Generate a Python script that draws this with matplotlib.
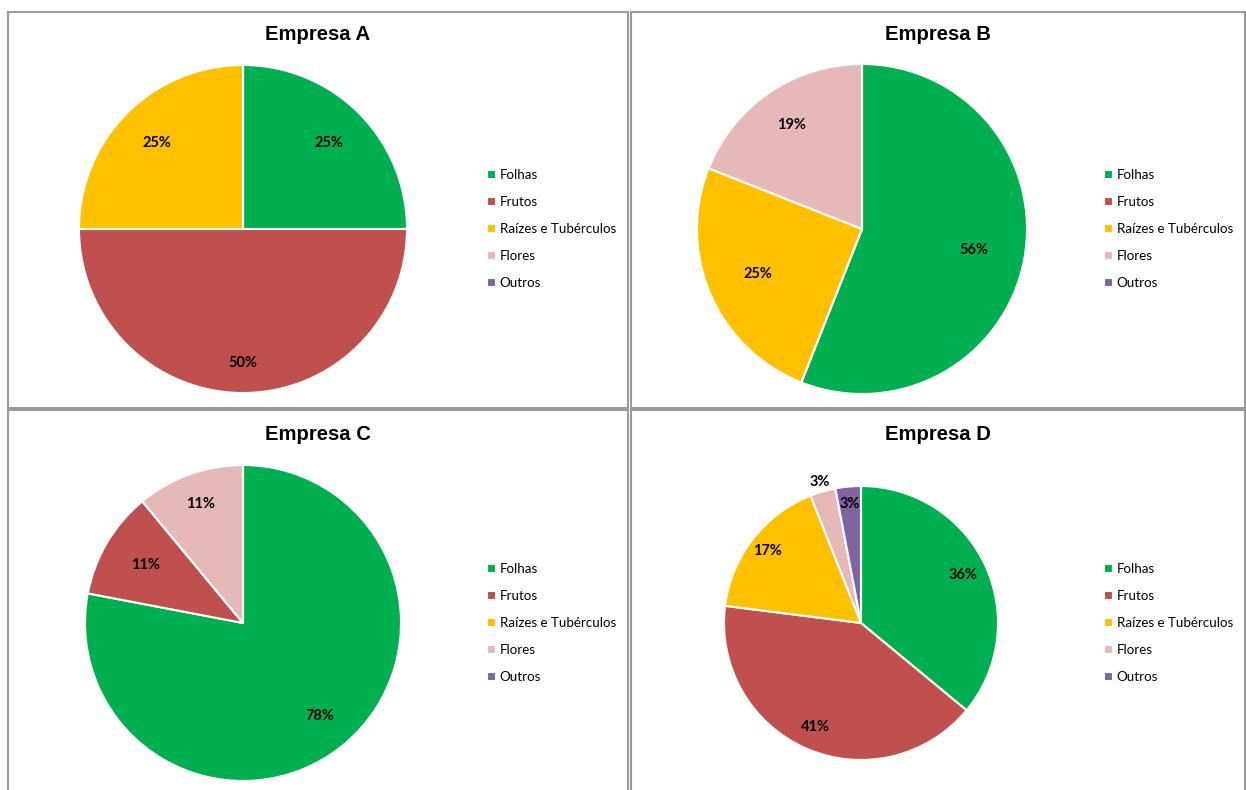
import matplotlib
matplotlib.use("Agg")
import matplotlib.pyplot as plt
from matplotlib.patches import Rectangle
import numpy as np

categories = ["Folhas", "Frutos", "Raízes e Tubérculos", "Flores", "Outros"]
colors = ["#00B050", "#C0504D", "#FFC000", "#E6B9B8", "#8064A2"]

titles = ["Empresa A", "Empresa B", "Empresa C", "Empresa D"]
empresa_a = [25, 50, 25, 0, 0]
empresa_b = [56, 0, 25, 19, 0]
empresa_c = [78, 11, 0, 11, 0]
empresa_d = [36, 41, 17, 3, 3]
series = [empresa_a, empresa_b, empresa_c, empresa_d]

W, H = 1246, 790
fig = plt.figure(figsize=(W / 100, H / 100), dpi=100)
fig.patch.set_facecolor("white")

# layout (pixels): panel boxes, pie center/radius, label radius factors
panels = [(8, 12, 628, 408), (631, 12, 1245, 408), (8, 410, 628, 800), (631, 410, 1245, 800)]
pies = [(243, 229, 164), (862, 229, 165), (243, 623, 158), (861, 623, 137)]
label_r = [
    [0.74, 0.82, 0.74, 0.75, 0.75],
    [0.69, 0.7, 0.69, 0.76, 0.75],
    [0.76, 0.72, 0.75, 0.8, 0.75],
    [0.82, 0.83, 0.86, 1.07, 0.87],
]
legend_x = [487, 1104, 487, 1104]
legend_y = [169, 169, 563, 563]
title_y = [35, 35, 434, 434]

def fx(x):
    return x / W

def fy(y):
    return 1 - y / H

for i in range(4):
    x0, y0, x1, y1 = panels[i]
    fig.patches.append(Rectangle((fx(x0), fy(y1)), fx(x1 - x0), (y1 - y0) / H,
                                 transform=fig.transFigure, fill=False,
                                 edgecolor="#9a9a9a", linewidth=1.5, zorder=0))
    fig.text(fx((x0 + x1) / 2), fy(title_y[i]), titles[i], ha="center", va="center",
             fontsize=14.6, fontweight="bold", family="Liberation Sans")

    cx, cy, r = pies[i]
    ax = fig.add_axes([fx(cx - r), fy(cy + r), 2 * r / W, 2 * r / H])
    vals = series[i]
    wedges, _ = ax.pie(vals, colors=colors, startangle=90, counterclock=False,
                       radius=1, wedgeprops=dict(edgecolor="white", linewidth=1.5))
    ax.set_xlim(-1, 1)
    ax.set_ylim(-1, 1)
    ax.set_aspect("equal")
    ax.axis("off")
    total = sum(vals)
    for j, (w, v) in enumerate(zip(wedges, vals)):
        if v == 0:
            continue
        ang = np.deg2rad((w.theta1 + w.theta2) / 2)
        rr = label_r[i][j]
        ax.text(rr * np.cos(ang), rr * np.sin(ang), f"{round(100 * v / total)}%",
                ha="center", va="center", fontsize=10.5, fontweight="bold",
                family="Lato", clip_on=False)

    fig.legend(wedges, categories, loc="upper left",
               bbox_to_anchor=(fx(legend_x[i]), fy(legend_y[i])),
               bbox_transform=fig.transFigure, frameon=False,
               prop=dict(family="Lato", size=9.6), handlelength=0.65,
               handleheight=0.65, handletextpad=0.3, labelspacing=1.13,
               borderpad=0, borderaxespad=0)

fig.savefig("out.png", dpi=100, facecolor="white")
